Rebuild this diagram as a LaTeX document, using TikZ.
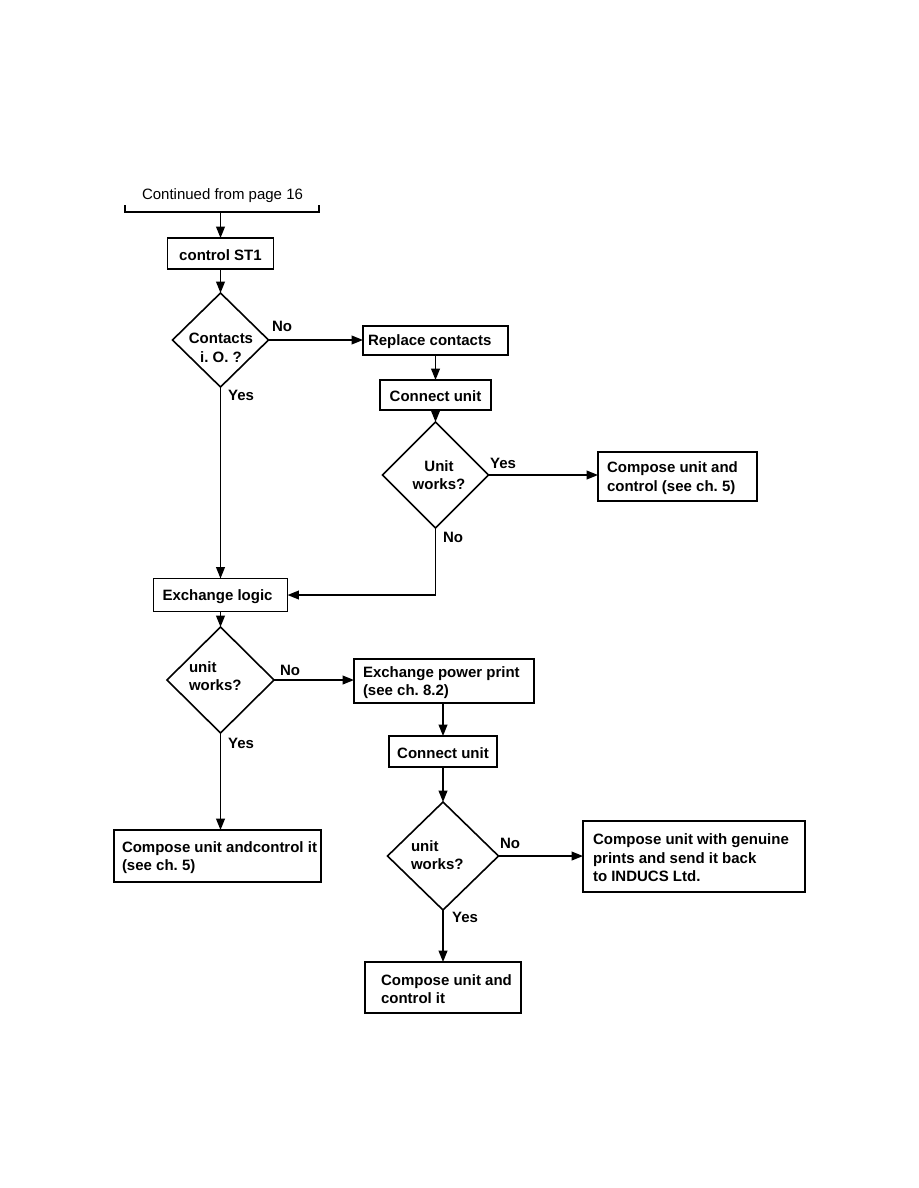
\documentclass[tikz,border=0pt]{standalone}
\usepackage{fontspec}
\setmainfont{Liberation Sans}
\usetikzlibrary{shapes.geometric,arrows.meta}
\frenchspacing
\newcommand\flowbox[7]{%
  \node[boxshape,minimum width=#4,minimum height=#5] (#1) at (#2,#3) {};
  \node[boxtext,anchor=west] (#1t) at ({#2-#4/2+#6},#3+1.5) {#7};}
\newcommand\flowboxc[6]{%
  \node[boxshape,minimum width=#4,minimum height=#5] (#1) at (#2,#3) {};
  \node[boxtext,align=center] (#1t) at (#2,#3+1.5) {#6};}
\begin{document}
\begin{tikzpicture}[x=1pt,y=-1pt,scale=0.75,transform shape,
  every node/.style={outer sep=0pt},
  boxshape/.style={draw,line width=1.2pt,inner sep=0pt},
  boxtext/.style={font=\fontsize{15}{18.5}\selectfont\bfseries\frenchspacing,align=left,inner sep=0pt},
  dia/.style={draw,diamond,line width=1.2pt,inner sep=0pt},
  dtext/.style={font=\fontsize{15}{18.5}\selectfont\bfseries\frenchspacing,inner sep=0pt},
  lbl/.style={font=\fontsize{15}{18}\selectfont\bfseries,inner sep=0pt},
  conn/.style={line width=1.2pt},
  arr/.style={line width=1.2pt,-{Triangle[length=8.5pt,width=6.5pt]}}]
\fill[white] (0,0) rectangle (918,1188);
\useasboundingbox (0,0) rectangle (918,1188);

% header
\node[font=\fontsize{15}{18}\selectfont,inner sep=0pt] (cont) at (222.5,196) {Continued from page 16};
\coordinate (brA) at (125,205);
\coordinate (brB) at (125,212);
\coordinate (brC) at (319,212);
\coordinate (brD) at (319,205);
\coordinate (brM) at (220.5,212);
\draw[conn] (brA) -- (brB) -- (brC) -- (brD);

% boxes
\flowboxc{st1}{220.5}{253.5}{106}{31}{control ST1}
\flowbox{rc}{435.5}{340.5}{145}{29}{5}{Replace contacts}
\flowboxc{cu1}{435.5}{395}{111}{30}{Connect unit}
\flowbox{c5a}{677.5}{476.5}{159}{49}{9}{Compose unit and\\control (see ch. 5)}
\flowbox{el}{220.5}{595}{134}{33}{9}{Exchange logic}
\flowbox{epp}{444}{681}{180}{44}{9}{Exchange power print\\(see ch. 8.2)}
\flowboxc{cu2}{443}{751.5}{108}{31}{Connect unit}
\flowbox{gen}{694}{856.5}{222}{71}{10}{Compose unit with genuine\\prints and send it back\\to INDUCS Ltd.}
\flowbox{c5b}{217.5}{856}{207}{52}{8}{Compose unit andcontrol it\\(see ch. 5)}
\flowbox{ctrl}{443}{987.5}{156}{51}{16}{Compose unit and\\control it}

% diamonds
\node[dia,minimum width=96,minimum height=94] (d1) at (220.5,340) {};
\node[dtext,align=center] (d1t) at (221,348) {Contacts\\i. O. ?};
\node[dia,minimum width=106,minimum height=106] (d2) at (435.5,475) {};
\node[dtext,align=center] (d2t) at (439,475) {Unit\\works?};
\node[dia,minimum width=107,minimum height=106] (d3) at (220.5,680) {};
\node[dtext,align=left,anchor=west] (d3t) at (189,676) {unit\\works?};
\node[dia,minimum width=111,minimum height=108] (d4) at (443,856) {};
\node[dtext,align=left,anchor=west] (d4t) at (411,855) {unit\\works?};

% labels
\node[lbl] (l1n) at (282,326) {No};
\node[lbl] (l1y) at (241,395) {Yes};
\node[lbl] (l2y) at (503,463) {Yes};
\node[lbl] (l2n) at (453,537) {No};
\node[lbl] (l3n) at (290,670) {No};
\node[lbl] (l3y) at (241,743) {Yes};
\node[lbl] (l4n) at (510,843) {No};
\node[lbl] (l4y) at (465,917) {Yes};

% connectors
\draw[arr] (brM) -- (st1.north);
\draw[arr] (st1.south) -- (d1.north);
\draw[arr] (d1.east) -- (d1.east -| rc.west);
\draw[arr] (rc.south) -- (cu1.north);
\draw[arr] (cu1.south) -- (d2.north);
\draw[arr] (d2.east) -- (d2.east -| c5a.west);
\draw[arr] (d2.south) |- (el.east);
\draw[arr] (d1.south) -- (d1.south |- el.north);
\draw[arr] (el.south) -- (d3.north);
\draw[arr] (d3.east) -- (d3.east -| epp.west);
\draw[arr] (cu2.north |- epp.south) -- (cu2.north);
\draw[arr] (cu2.south) -- (d4.north);
\draw[arr] (d4.east) -- (d4.east -| gen.west);
\draw[arr] (d4.south) -- (d4.south |- ctrl.north);
\draw[arr] (d3.south) -- (d3.south |- c5b.north);
\end{tikzpicture}
\end{document}
